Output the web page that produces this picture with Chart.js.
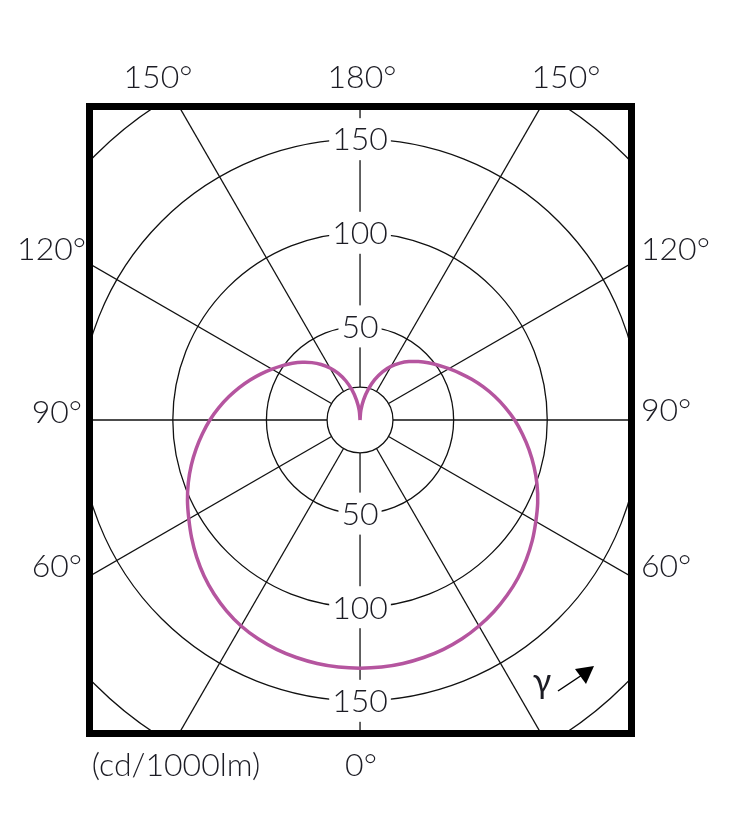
<!DOCTYPE html>
<html>
<head>
<meta charset="utf-8">
<script src="https://cdn.jsdelivr.net/npm/chart.js@4.4.1/dist/chart.umd.min.js"></script>
<style>
  html, body { margin: 0; padding: 0; background: #fff; }
  canvas { display: block; }
</style>
</head>
<body>
<canvas id="polar" width="735" height="825"></canvas>
<script>
// gamma angles (deg) and intensity (cd/1000lm)
const angles  = [0, 5, 10, 15, 20, 25, 30, 35, 40, 45, 50, 55, 60, 65, 70, 75, 80, 85, 90,
                 95, 100, 105, 110, 115, 120, 125, 130, 135, 140, 145, 150, 155, 160, 165, 170, 175, 180];
// left half of the diagram
const planeLeft  = [132.5, 132.4, 132.0, 131.3, 130.3, 128.9, 127.0, 124.4, 121.3, 117.8, 113.9, 109.8, 105.6, 101.7, 97.6, 93.3, 88.9, 84.5, 80.2,
                    75.7, 71.2, 66.8, 62.5, 58.3, 54.3, 50.6, 47.1, 43.6, 40.0, 36.2, 32.1, 27.5, 22.3, 16.6, 10.8, 5.2, 0];
// right half of the diagram
const planeRight = [132.5, 132.4, 132.0, 131.3, 130.3, 128.9, 127.0, 124.8, 122.2, 119.3, 115.9, 112.3, 108.4, 104.7, 100.6, 96.2, 91.7, 87.1, 82.6,
                    77.8, 73.0, 68.2, 63.5, 59.0, 54.8, 51.0, 47.5, 44.1, 40.7, 37.1, 33.1, 28.4, 22.9, 16.9, 10.9, 5.2, 0];

const ringValues  = [50, 100, 150, 200];
const ringLabels  = [50, 100, 150];
const spokeAngles = [0, 30, 60, 90, 120, 150, 180, 210, 240, 270, 300, 330];
const hubValue    = 17.6;

const FONT = '300 32px Lato, "Open Sans", sans-serif';
const INK = '#1c1c24';

function toXY(v, a, side) {
    const t = a * Math.PI / 180;
    return { x: side * v * Math.sin(t), y: -v * Math.cos(t) };
}

const curve = [];
for (let i = angles.length - 1; i >= 0; i--) curve.push(toXY(planeLeft[i], angles[i], -1));
for (let i = 1; i < angles.length; i++) curve.push(toXY(planeRight[i], angles[i], 1));

const polarGrid = {
    id: 'polarGrid',
    beforeDatasetsDraw(chart) {
        const { ctx, chartArea: ca, scales } = chart;
        const cx = scales.x.getPixelForValue(0), cy = scales.y.getPixelForValue(0);
        const k = scales.x.getPixelForValue(1) - cx;
        ctx.save();
        ctx.beginPath();
        ctx.rect(ca.left, ca.top, ca.width, ca.height);
        ctx.clip();
        ctx.strokeStyle = '#111';
        ctx.lineWidth = 1.3;
        ringValues.forEach(v => {
            ctx.beginPath();
            ctx.arc(cx, cy, v * k, 0, Math.PI * 2);
            ctx.stroke();
        });
        ctx.beginPath();
        ctx.arc(cx, cy, hubValue * k, 0, Math.PI * 2);
        ctx.stroke();
        spokeAngles.forEach(a => {
            const t = a * Math.PI / 180;
            const dx = Math.sin(t), dy = Math.cos(t);
            ctx.beginPath();
            ctx.moveTo(cx + dx * hubValue * k, cy + dy * hubValue * k);
            ctx.lineTo(cx + dx * 400 * k, cy + dy * 400 * k);
            ctx.stroke();
        });
        // ring values on the vertical axis, on white
        ctx.font = FONT;
        ctx.textAlign = 'center';
        ctx.textBaseline = 'middle';
        ringLabels.forEach(v => {
            [-1, 1].forEach(dir => {
                const py = cy + dir * v * k;
                const w = ctx.measureText(String(v)).width;
                ctx.fillStyle = '#fff';
                ctx.fillRect(cx - w / 2 - 3, py - 21, w + 6, 42);
                ctx.fillStyle = INK;
                ctx.fillText(String(v), cx, py + 1);
            });
        });
        ctx.restore();
    },
    afterDraw(chart) {
        const { ctx, chartArea: ca } = chart;
        ctx.save();
        ctx.strokeStyle = '#000';
        ctx.lineWidth = 7;
        ctx.strokeRect(ca.left, ca.top, ca.width, ca.height);

        ctx.font = FONT;
        ctx.fillStyle = INK;
        ctx.textBaseline = 'middle';
        ctx.textAlign = 'center';
        ctx.fillText('150°', 158, 78);
        ctx.fillText('180°', 362, 78);
        ctx.fillText('150°', 566, 78);
        ctx.fillText('0°', 361, 766);
        ctx.fillText('(cd/1000lm)', 176, 766);

        ctx.textAlign = 'right';
        ctx.fillText('120°', 86, 250);
        ctx.fillText('90°', 82, 413);
        ctx.fillText('60°', 82, 567);
        ctx.textAlign = 'left';
        ctx.fillText('120°', 641, 250);
        ctx.fillText('90°', 641, 411);
        ctx.fillText('60°', 641, 567);

        // gamma direction marker
        ctx.textAlign = 'center';
        ctx.font = '400 34px Lato, "Open Sans", sans-serif';
        ctx.fillText('γ', 542, 682);
        ctx.lineWidth = 1.5;
        ctx.strokeStyle = '#000';
        ctx.beginPath();
        ctx.moveTo(558, 691);
        ctx.lineTo(582, 675);
        ctx.stroke();
        ctx.fillStyle = '#000';
        ctx.beginPath();
        ctx.moveTo(594, 666);
        ctx.lineTo(575, 669);
        ctx.lineTo(586, 684);
        ctx.closePath();
        ctx.fill();
        ctx.restore();
    }
};

new Chart('polar', {
    type: 'scatter',
    data: {
        datasets: [{
            data: curve,
            showLine: true,
            borderColor: '#b5559f',
            borderWidth: 3.5,
            pointRadius: 0,
            tension: 0.4,
            fill: false
        }]
    },
    options: {
        responsive: false,
        animation: false,
        layout: { padding: { left: 89.5, top: 106.5, right: 103.5, bottom: 91.5 } },
        plugins: { legend: { display: false }, tooltip: { enabled: false } },
        scales: {
            x: { type: 'linear', min: -144.5, max: 145, display: false },
            y: { type: 'linear', min: -167.4, max: 167.4, display: false }
        }
    },
    plugins: [polarGrid]
});
</script>
</body>
</html>
